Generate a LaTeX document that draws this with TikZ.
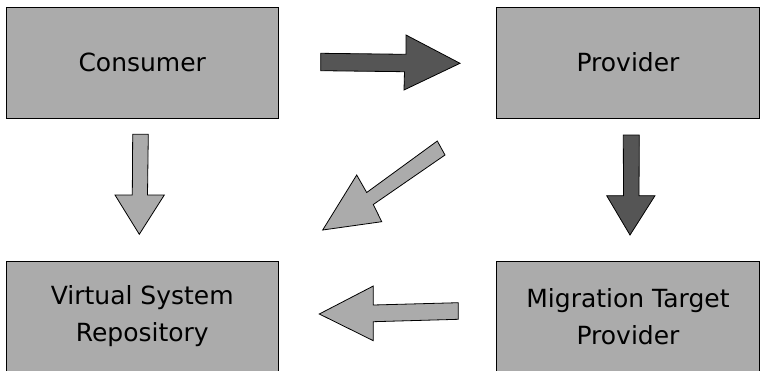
\documentclass[tikz,border=0pt]{standalone}
\usepackage{fontspec}
\setmainfont{DejaVu Sans}
\definecolor{boxgray}{HTML}{ABABAB}
\definecolor{darkgray}{HTML}{555555}
\begin{document}
\begin{tikzpicture}[x=1pt,y=-1pt,
  box/.style={draw=black, line width=0.9pt, fill=boxgray, inner sep=0pt,
    align=center, font=\fontsize{25}{37}\selectfont},
  lightarrow/.style={draw=black, line width=0.8pt, fill=boxgray, line join=miter},
  darkarrow/.style={draw=black, line width=0.8pt, fill=darkgray, line join=miter}]
\useasboundingbox (0,0) rectangle (761,370);
\begin{scope}
\clip (0,0) rectangle (761,370);
\node[box, minimum width=271.5pt, minimum height=111pt] (consumer) at (142.25,62.5) {Consumer};
\node[box, minimum width=263pt, minimum height=111pt] (provider) at (628,62.5) {Provider};
\node[box, minimum width=271.5pt, minimum height=110pt] (vsr) at (142.25,316.5) {Virtual System\\Repository};
\node[box, minimum width=263pt, minimum height=110pt] (mtp) at (628,316.5) {Migration Target\\Provider};
\end{scope}
% Consumer -> Provider
\draw[darkarrow] (320.7,53.3) -- (406,54.3) -- (406,35) -- (460,63.3) -- (404,90) -- (404.5,71.7) -- (320.7,70.7) -- cycle;
% Provider -> Virtual System Repository
\draw[lightarrow] (437.3,141) -- (445,155) -- (373.3,204.5) -- (381.7,221.7) -- (322.7,230) -- (356.7,175) -- (366.7,192.5) -- cycle;
% Consumer -> Virtual System Repository
\draw[lightarrow] (132.7,134.3) -- (148.3,134.3) -- (147.5,195) -- (164.3,195) -- (139.3,234.3) -- (115,195) -- (132.3,195) -- cycle;
% Provider -> Migration Target Provider
\draw[darkarrow] (623.3,135) -- (639.3,135) -- (639,195.7) -- (655,195.7) -- (630,235) -- (606.7,195.7) -- (623.5,195.7) -- cycle;
% Migration Target Provider -> Virtual System Repository
\draw[lightarrow] (458.3,302.7) -- (458.3,319.3) -- (373.3,321.7) -- (373.3,340.7) -- (319.3,314) -- (373.3,286) -- (373.3,305) -- cycle;
\end{tikzpicture}
\end{document}
